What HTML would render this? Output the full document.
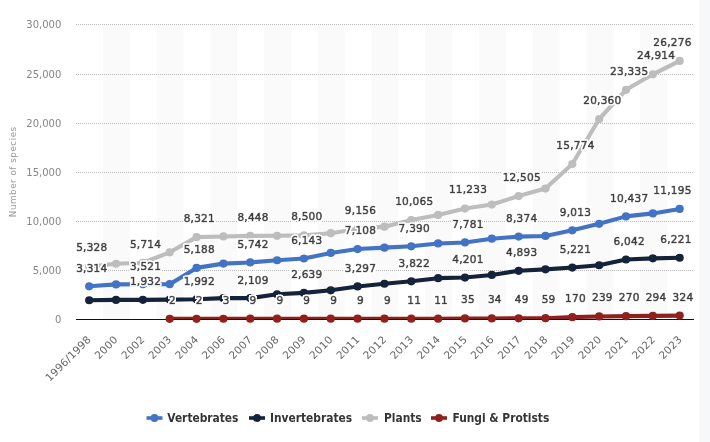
<!DOCTYPE html>
<html lang="en"><head><meta charset="utf-8"><title>Number of threatened species</title>
<style>html,body{margin:0;padding:0;background:#fff}body{width:710px;height:442px;overflow:hidden}svg text{font-family:"DejaVu Sans","Liberation Sans",sans-serif}svg text.cond{font-family:"DejaVu Sans Condensed","DejaVu Sans","Liberation Sans",sans-serif}</style></head>
<body>
<svg width="710" height="442" viewBox="0 0 710 442" style="display:block">
<rect width="710" height="442" fill="#ffffff"/>
<defs><clipPath id="plotclip"><rect x="76.0" y="0" width="618.0" height="319"/></clipPath><filter id="halo" x="0" y="0" width="710" height="442" filterUnits="userSpaceOnUse"><feMorphology in="SourceAlpha" operator="dilate" radius="1.1" result="d"/><feGaussianBlur in="d" stdDeviation="0.35" result="b"/><feComponentTransfer in="b" result="a"><feFuncA type="linear" slope="3" intercept="0"/></feComponentTransfer><feFlood flood-color="#ffffff"/><feComposite in2="a" operator="in" result="h"/><feMerge><feMergeNode in="h"/><feMergeNode in="SourceGraphic"/></feMerge></filter></defs>
<rect x="102.87" y="24" width="26.87" height="295" fill="#fafafa"/>
<rect x="156.61" y="24" width="26.87" height="295" fill="#fafafa"/>
<rect x="210.35" y="24" width="26.87" height="295" fill="#fafafa"/>
<rect x="264.09" y="24" width="26.87" height="295" fill="#fafafa"/>
<rect x="317.83" y="24" width="26.87" height="295" fill="#fafafa"/>
<rect x="371.57" y="24" width="26.87" height="295" fill="#fafafa"/>
<rect x="425.30" y="24" width="26.87" height="295" fill="#fafafa"/>
<rect x="479.04" y="24" width="26.87" height="295" fill="#fafafa"/>
<rect x="532.78" y="24" width="26.87" height="295" fill="#fafafa"/>
<rect x="586.52" y="24" width="26.87" height="295" fill="#fafafa"/>
<rect x="640.26" y="24" width="26.87" height="295" fill="#fafafa"/>
<rect x="699.5" y="0" width="10.5" height="442" fill="#f7f8fa"/>
<line x1="76.0" x2="694.0" y1="270.50" y2="270.50" stroke="#bababa" stroke-width="1" stroke-dasharray="1 1"/>
<line x1="76.0" x2="694.0" y1="221.50" y2="221.50" stroke="#bababa" stroke-width="1" stroke-dasharray="1 1"/>
<line x1="76.0" x2="694.0" y1="172.50" y2="172.50" stroke="#bababa" stroke-width="1" stroke-dasharray="1 1"/>
<line x1="76.0" x2="694.0" y1="123.50" y2="123.50" stroke="#bababa" stroke-width="1" stroke-dasharray="1 1"/>
<line x1="76.0" x2="694.0" y1="74.50" y2="74.50" stroke="#bababa" stroke-width="1" stroke-dasharray="1 1"/>
<line x1="76.0" x2="694.0" y1="24.50" y2="24.50" stroke="#bababa" stroke-width="1" stroke-dasharray="1 1"/>
<line x1="76.0" x2="694.0" y1="319.5" y2="319.5" stroke="#111111" stroke-width="1"/>
<text x="61.3" y="323.30" text-anchor="end" font-size="10" fill="#868686">0</text>
<text x="61.3" y="274.30" text-anchor="end" font-size="10" fill="#868686">5,000</text>
<text x="61.3" y="225.30" text-anchor="end" font-size="10" fill="#868686">10,000</text>
<text x="61.3" y="176.30" text-anchor="end" font-size="10" fill="#868686">15,000</text>
<text x="61.3" y="127.30" text-anchor="end" font-size="10" fill="#868686">20,000</text>
<text x="61.3" y="78.30" text-anchor="end" font-size="10" fill="#868686">25,000</text>
<text x="61.3" y="28.30" text-anchor="end" font-size="10" fill="#868686">30,000</text>
<text transform="translate(16.0,172.0) rotate(-90)" text-anchor="middle" font-size="8.8" textLength="90.4" lengthAdjust="spacing" fill="#999999">Number of species</text>
<text transform="translate(91.63,340.2) rotate(-45)" text-anchor="end" font-size="10.5" letter-spacing="0.25" fill="#666666">1996/1998</text>
<text transform="translate(118.50,340.2) rotate(-45)" text-anchor="end" font-size="10.5" letter-spacing="0.25" fill="#666666">2000</text>
<text transform="translate(145.37,340.2) rotate(-45)" text-anchor="end" font-size="10.5" letter-spacing="0.25" fill="#666666">2002</text>
<text transform="translate(172.24,340.2) rotate(-45)" text-anchor="end" font-size="10.5" letter-spacing="0.25" fill="#666666">2003</text>
<text transform="translate(199.11,340.2) rotate(-45)" text-anchor="end" font-size="10.5" letter-spacing="0.25" fill="#666666">2004</text>
<text transform="translate(225.98,340.2) rotate(-45)" text-anchor="end" font-size="10.5" letter-spacing="0.25" fill="#666666">2006</text>
<text transform="translate(252.85,340.2) rotate(-45)" text-anchor="end" font-size="10.5" letter-spacing="0.25" fill="#666666">2007</text>
<text transform="translate(279.72,340.2) rotate(-45)" text-anchor="end" font-size="10.5" letter-spacing="0.25" fill="#666666">2008</text>
<text transform="translate(306.59,340.2) rotate(-45)" text-anchor="end" font-size="10.5" letter-spacing="0.25" fill="#666666">2009</text>
<text transform="translate(333.46,340.2) rotate(-45)" text-anchor="end" font-size="10.5" letter-spacing="0.25" fill="#666666">2010</text>
<text transform="translate(360.33,340.2) rotate(-45)" text-anchor="end" font-size="10.5" letter-spacing="0.25" fill="#666666">2011</text>
<text transform="translate(387.20,340.2) rotate(-45)" text-anchor="end" font-size="10.5" letter-spacing="0.25" fill="#666666">2012</text>
<text transform="translate(414.07,340.2) rotate(-45)" text-anchor="end" font-size="10.5" letter-spacing="0.25" fill="#666666">2013</text>
<text transform="translate(440.94,340.2) rotate(-45)" text-anchor="end" font-size="10.5" letter-spacing="0.25" fill="#666666">2014</text>
<text transform="translate(467.81,340.2) rotate(-45)" text-anchor="end" font-size="10.5" letter-spacing="0.25" fill="#666666">2015</text>
<text transform="translate(494.68,340.2) rotate(-45)" text-anchor="end" font-size="10.5" letter-spacing="0.25" fill="#666666">2016</text>
<text transform="translate(521.55,340.2) rotate(-45)" text-anchor="end" font-size="10.5" letter-spacing="0.25" fill="#666666">2017</text>
<text transform="translate(548.42,340.2) rotate(-45)" text-anchor="end" font-size="10.5" letter-spacing="0.25" fill="#666666">2018</text>
<text transform="translate(575.29,340.2) rotate(-45)" text-anchor="end" font-size="10.5" letter-spacing="0.25" fill="#666666">2019</text>
<text transform="translate(602.16,340.2) rotate(-45)" text-anchor="end" font-size="10.5" letter-spacing="0.25" fill="#666666">2020</text>
<text transform="translate(629.03,340.2) rotate(-45)" text-anchor="end" font-size="10.5" letter-spacing="0.25" fill="#666666">2021</text>
<text transform="translate(655.90,340.2) rotate(-45)" text-anchor="end" font-size="10.5" letter-spacing="0.25" fill="#666666">2022</text>
<text transform="translate(682.77,340.2) rotate(-45)" text-anchor="end" font-size="10.5" letter-spacing="0.25" fill="#666666">2023</text>
<path d="M89.20 286.28 L116.04 284.38 L142.88 284.25 L169.72 284.22 L196.56 267.89 L223.40 263.61 L250.24 262.45 L277.08 260.25 L303.92 258.52 L330.76 252.91 L357.60 249.05 L384.44 247.65 L411.28 246.28 L438.12 243.45 L464.96 242.44 L491.80 238.72 L518.64 236.62 L545.48 235.96 L572.32 230.35 L599.16 223.84 L626.00 216.38 L652.84 213.41 L679.68 208.94" fill="none" stroke="#4273c5" stroke-width="4.1" stroke-linejoin="round" stroke-linecap="round" clip-path="url(#plotclip)"/>
<circle cx="89.20" cy="286.28" r="4.1" fill="#4273c5"/>
<circle cx="116.04" cy="284.38" r="4.1" fill="#4273c5"/>
<circle cx="142.88" cy="284.25" r="4.1" fill="#4273c5"/>
<circle cx="169.72" cy="284.22" r="4.1" fill="#4273c5"/>
<circle cx="196.56" cy="267.89" r="4.1" fill="#4273c5"/>
<circle cx="223.40" cy="263.61" r="4.1" fill="#4273c5"/>
<circle cx="250.24" cy="262.45" r="4.1" fill="#4273c5"/>
<circle cx="277.08" cy="260.25" r="4.1" fill="#4273c5"/>
<circle cx="303.92" cy="258.52" r="4.1" fill="#4273c5"/>
<circle cx="330.76" cy="252.91" r="4.1" fill="#4273c5"/>
<circle cx="357.60" cy="249.05" r="4.1" fill="#4273c5"/>
<circle cx="384.44" cy="247.65" r="4.1" fill="#4273c5"/>
<circle cx="411.28" cy="246.28" r="4.1" fill="#4273c5"/>
<circle cx="438.12" cy="243.45" r="4.1" fill="#4273c5"/>
<circle cx="464.96" cy="242.44" r="4.1" fill="#4273c5"/>
<circle cx="491.80" cy="238.72" r="4.1" fill="#4273c5"/>
<circle cx="518.64" cy="236.62" r="4.1" fill="#4273c5"/>
<circle cx="545.48" cy="235.96" r="4.1" fill="#4273c5"/>
<circle cx="572.32" cy="230.35" r="4.1" fill="#4273c5"/>
<circle cx="599.16" cy="223.84" r="4.1" fill="#4273c5"/>
<circle cx="626.00" cy="216.38" r="4.1" fill="#4273c5"/>
<circle cx="652.84" cy="213.41" r="4.1" fill="#4273c5"/>
<circle cx="679.68" cy="208.94" r="4.1" fill="#4273c5"/>
<path d="M89.20 300.24 L116.04 299.88 L142.88 299.84 L169.72 299.58 L196.56 299.25 L223.40 298.17 L250.24 298.10 L277.08 294.31 L303.92 292.90 L330.76 290.30 L357.60 286.45 L384.44 283.77 L411.28 281.29 L438.12 278.17 L464.96 277.57 L491.80 274.93 L518.64 270.78 L545.48 269.34 L572.32 267.56 L599.16 265.23 L626.00 259.51 L652.84 258.34 L679.68 257.75" fill="none" stroke="#14233a" stroke-width="4.1" stroke-linejoin="round" stroke-linecap="round" clip-path="url(#plotclip)"/>
<circle cx="89.20" cy="300.24" r="4.1" fill="#14233a"/>
<circle cx="116.04" cy="299.88" r="4.1" fill="#14233a"/>
<circle cx="142.88" cy="299.84" r="4.1" fill="#14233a"/>
<circle cx="169.72" cy="299.58" r="4.1" fill="#14233a"/>
<circle cx="196.56" cy="299.25" r="4.1" fill="#14233a"/>
<circle cx="223.40" cy="298.17" r="4.1" fill="#14233a"/>
<circle cx="250.24" cy="298.10" r="4.1" fill="#14233a"/>
<circle cx="277.08" cy="294.31" r="4.1" fill="#14233a"/>
<circle cx="303.92" cy="292.90" r="4.1" fill="#14233a"/>
<circle cx="330.76" cy="290.30" r="4.1" fill="#14233a"/>
<circle cx="357.60" cy="286.45" r="4.1" fill="#14233a"/>
<circle cx="384.44" cy="283.77" r="4.1" fill="#14233a"/>
<circle cx="411.28" cy="281.29" r="4.1" fill="#14233a"/>
<circle cx="438.12" cy="278.17" r="4.1" fill="#14233a"/>
<circle cx="464.96" cy="277.57" r="4.1" fill="#14233a"/>
<circle cx="491.80" cy="274.93" r="4.1" fill="#14233a"/>
<circle cx="518.64" cy="270.78" r="4.1" fill="#14233a"/>
<circle cx="545.48" cy="269.34" r="4.1" fill="#14233a"/>
<circle cx="572.32" cy="267.56" r="4.1" fill="#14233a"/>
<circle cx="599.16" cy="265.23" r="4.1" fill="#14233a"/>
<circle cx="626.00" cy="259.51" r="4.1" fill="#14233a"/>
<circle cx="652.84" cy="258.34" r="4.1" fill="#14233a"/>
<circle cx="679.68" cy="257.75" r="4.1" fill="#14233a"/>
<path d="M89.20 266.51 L116.04 263.74 L142.88 262.73 L169.72 252.32 L196.56 237.14 L223.40 236.47 L250.24 235.90 L277.08 235.81 L303.92 235.39 L330.76 233.19 L357.60 228.95 L384.44 226.65 L411.28 220.03 L438.12 214.94 L464.96 208.57 L491.80 204.54 L518.64 196.08 L545.48 188.55 L572.32 164.00 L599.16 119.00 L626.00 89.81 L652.84 74.31 L679.68 60.94" fill="none" stroke="#bdbdbd" stroke-width="4.1" stroke-linejoin="round" stroke-linecap="round" clip-path="url(#plotclip)"/>
<circle cx="89.20" cy="266.51" r="4.1" fill="#bdbdbd"/>
<circle cx="116.04" cy="263.74" r="4.1" fill="#bdbdbd"/>
<circle cx="142.88" cy="262.73" r="4.1" fill="#bdbdbd"/>
<circle cx="169.72" cy="252.32" r="4.1" fill="#bdbdbd"/>
<circle cx="196.56" cy="237.14" r="4.1" fill="#bdbdbd"/>
<circle cx="223.40" cy="236.47" r="4.1" fill="#bdbdbd"/>
<circle cx="250.24" cy="235.90" r="4.1" fill="#bdbdbd"/>
<circle cx="277.08" cy="235.81" r="4.1" fill="#bdbdbd"/>
<circle cx="303.92" cy="235.39" r="4.1" fill="#bdbdbd"/>
<circle cx="330.76" cy="233.19" r="4.1" fill="#bdbdbd"/>
<circle cx="357.60" cy="228.95" r="4.1" fill="#bdbdbd"/>
<circle cx="384.44" cy="226.65" r="4.1" fill="#bdbdbd"/>
<circle cx="411.28" cy="220.03" r="4.1" fill="#bdbdbd"/>
<circle cx="438.12" cy="214.94" r="4.1" fill="#bdbdbd"/>
<circle cx="464.96" cy="208.57" r="4.1" fill="#bdbdbd"/>
<circle cx="491.80" cy="204.54" r="4.1" fill="#bdbdbd"/>
<circle cx="518.64" cy="196.08" r="4.1" fill="#bdbdbd"/>
<circle cx="545.48" cy="188.55" r="4.1" fill="#bdbdbd"/>
<circle cx="572.32" cy="164.00" r="4.1" fill="#bdbdbd"/>
<circle cx="599.16" cy="119.00" r="4.1" fill="#bdbdbd"/>
<circle cx="626.00" cy="89.81" r="4.1" fill="#bdbdbd"/>
<circle cx="652.84" cy="74.31" r="4.1" fill="#bdbdbd"/>
<circle cx="679.68" cy="60.94" r="4.1" fill="#bdbdbd"/>
<path d="M169.72 318.78 L196.56 318.78 L223.40 318.77 L250.24 318.71 L277.08 318.71 L303.92 318.71 L330.76 318.71 L357.60 318.71 L384.44 318.71 L411.28 318.69 L438.12 318.69 L464.96 318.46 L491.80 318.47 L518.64 318.32 L545.48 318.22 L572.32 317.13 L599.16 316.45 L626.00 316.15 L652.84 315.91 L679.68 315.62" fill="none" stroke="#90201b" stroke-width="4.1" stroke-linejoin="round" stroke-linecap="round" clip-path="url(#plotclip)"/>
<circle cx="169.72" cy="318.78" r="4.1" fill="#90201b"/>
<circle cx="196.56" cy="318.78" r="4.1" fill="#90201b"/>
<circle cx="223.40" cy="318.77" r="4.1" fill="#90201b"/>
<circle cx="250.24" cy="318.71" r="4.1" fill="#90201b"/>
<circle cx="277.08" cy="318.71" r="4.1" fill="#90201b"/>
<circle cx="303.92" cy="318.71" r="4.1" fill="#90201b"/>
<circle cx="330.76" cy="318.71" r="4.1" fill="#90201b"/>
<circle cx="357.60" cy="318.71" r="4.1" fill="#90201b"/>
<circle cx="384.44" cy="318.71" r="4.1" fill="#90201b"/>
<circle cx="411.28" cy="318.69" r="4.1" fill="#90201b"/>
<circle cx="438.12" cy="318.69" r="4.1" fill="#90201b"/>
<circle cx="464.96" cy="318.46" r="4.1" fill="#90201b"/>
<circle cx="491.80" cy="318.47" r="4.1" fill="#90201b"/>
<circle cx="518.64" cy="318.32" r="4.1" fill="#90201b"/>
<circle cx="545.48" cy="318.22" r="4.1" fill="#90201b"/>
<circle cx="572.32" cy="317.13" r="4.1" fill="#90201b"/>
<circle cx="599.16" cy="316.45" r="4.1" fill="#90201b"/>
<circle cx="626.00" cy="316.15" r="4.1" fill="#90201b"/>
<circle cx="652.84" cy="315.91" r="4.1" fill="#90201b"/>
<circle cx="679.68" cy="315.62" r="4.1" fill="#90201b"/>
<g filter="url(#halo)" font-size="10.5" letter-spacing="0.25" fill="#3e3e3e" stroke="#3e3e3e" stroke-width="0.7">
<text x="91.83" y="271.68" text-anchor="middle">3,314</text>
<text x="145.57" y="269.65" text-anchor="middle">3,521</text>
<text x="199.31" y="253.29" text-anchor="middle">5,188</text>
<text x="253.05" y="247.85" text-anchor="middle">5,742</text>
<text x="306.79" y="243.92" text-anchor="middle">6,143</text>
<text x="360.53" y="234.45" text-anchor="middle">7,108</text>
<text x="414.27" y="231.68" text-anchor="middle">7,390</text>
<text x="468.01" y="227.84" text-anchor="middle">7,781</text>
<text x="521.75" y="222.02" text-anchor="middle">8,374</text>
<text x="575.49" y="215.75" text-anchor="middle">9,013</text>
<text x="629.23" y="201.78" text-anchor="middle">10,437</text>
<text x="691.60" y="194.34" text-anchor="end">11,195</text>
<text x="145.57" y="285.24" text-anchor="middle">1,932</text>
<text x="199.31" y="284.65" text-anchor="middle">1,992</text>
<text x="253.05" y="283.50" text-anchor="middle">2,109</text>
<text x="306.79" y="278.30" text-anchor="middle">2,639</text>
<text x="360.53" y="271.85" text-anchor="middle">3,297</text>
<text x="414.27" y="266.69" text-anchor="middle">3,822</text>
<text x="468.01" y="262.97" text-anchor="middle">4,201</text>
<text x="521.75" y="256.18" text-anchor="middle">4,893</text>
<text x="575.49" y="252.96" text-anchor="middle">5,221</text>
<text x="629.23" y="244.91" text-anchor="middle">6,042</text>
<text x="691.60" y="243.15" text-anchor="end">6,221</text>
<text x="91.83" y="251.41" text-anchor="middle">5,328</text>
<text x="145.57" y="247.63" text-anchor="middle">5,714</text>
<text x="199.31" y="222.04" text-anchor="middle">8,321</text>
<text x="253.05" y="220.80" text-anchor="middle">8,448</text>
<text x="306.79" y="220.29" text-anchor="middle">8,500</text>
<text x="360.53" y="213.85" text-anchor="middle">9,156</text>
<text x="414.27" y="204.93" text-anchor="middle">10,065</text>
<text x="468.01" y="193.47" text-anchor="middle">11,233</text>
<text x="521.75" y="180.98" text-anchor="middle">12,505</text>
<text x="575.49" y="148.90" text-anchor="middle">15,774</text>
<text x="602.36" y="103.90" text-anchor="middle">20,360</text>
<text x="629.23" y="74.71" text-anchor="middle">23,335</text>
<text x="656.10" y="59.21" text-anchor="middle">24,914</text>
<text x="691.60" y="45.84" text-anchor="end">26,276</text>
<text x="172.44" y="303.68" text-anchor="middle">2</text>
<text x="199.31" y="303.68" text-anchor="middle">2</text>
<text x="226.18" y="303.67" text-anchor="middle">3</text>
<text x="253.05" y="303.61" text-anchor="middle">9</text>
<text x="279.92" y="303.61" text-anchor="middle">9</text>
<text x="306.79" y="303.61" text-anchor="middle">9</text>
<text x="333.66" y="303.61" text-anchor="middle">9</text>
<text x="360.53" y="303.61" text-anchor="middle">9</text>
<text x="387.40" y="303.61" text-anchor="middle">9</text>
<text x="414.27" y="303.59" text-anchor="middle">11</text>
<text x="441.14" y="303.59" text-anchor="middle">11</text>
<text x="468.01" y="303.36" text-anchor="middle">35</text>
<text x="494.88" y="303.37" text-anchor="middle">34</text>
<text x="521.75" y="303.22" text-anchor="middle">49</text>
<text x="548.62" y="303.12" text-anchor="middle">59</text>
<text x="575.49" y="302.03" text-anchor="middle">170</text>
<text x="602.36" y="301.35" text-anchor="middle">239</text>
<text x="629.23" y="301.05" text-anchor="middle">270</text>
<text x="656.10" y="300.81" text-anchor="middle">294</text>
<text x="682.97" y="300.52" text-anchor="middle">324</text>
</g>
<line x1="146.5" x2="162.5" y1="418" y2="418" stroke="#4273c5" stroke-width="3.6" stroke-linecap="butt"/>
<circle cx="154.5" cy="418" r="3.9" fill="#4273c5"/>
<text x="167.3" y="422" font-size="11.85" font-weight="bold" class="cond" fill="#353535">Vertebrates</text>
<line x1="249" x2="265" y1="418" y2="418" stroke="#14233a" stroke-width="3.6" stroke-linecap="butt"/>
<circle cx="257" cy="418" r="3.9" fill="#14233a"/>
<text x="270" y="422" font-size="11.85" font-weight="bold" class="cond" fill="#353535">Invertebrates</text>
<line x1="362" x2="378" y1="418" y2="418" stroke="#bdbdbd" stroke-width="3.6" stroke-linecap="butt"/>
<circle cx="370" cy="418" r="3.9" fill="#bdbdbd"/>
<text x="384" y="422" font-size="11.85" font-weight="bold" class="cond" fill="#353535">Plants</text>
<line x1="431" x2="447" y1="418" y2="418" stroke="#90201b" stroke-width="3.6" stroke-linecap="butt"/>
<circle cx="439" cy="418" r="3.9" fill="#90201b"/>
<text x="452.5" y="422" font-size="11.85" font-weight="bold" class="cond" fill="#353535">Fungi &amp; Protists</text>
</svg>
</body></html>
